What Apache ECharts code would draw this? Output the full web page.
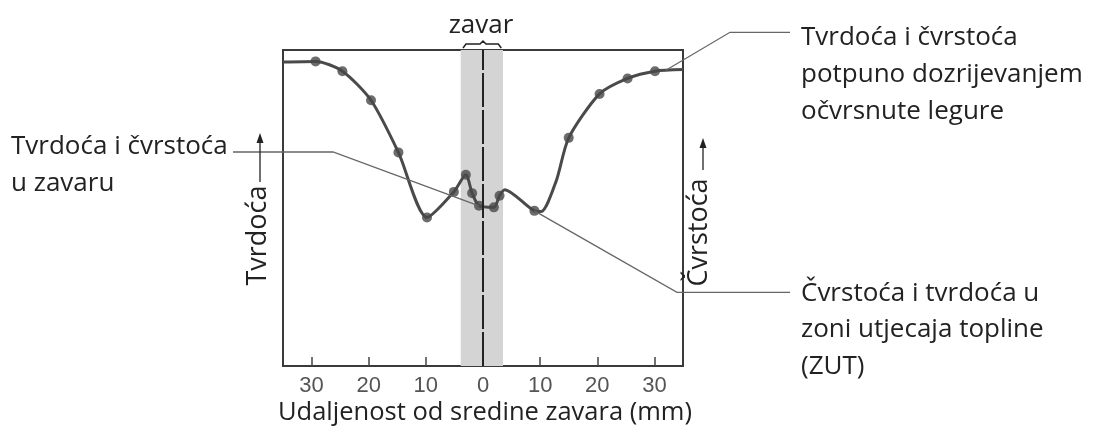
<!DOCTYPE html>
<html>
<head>
<meta charset="utf-8">
<script src="https://cdn.jsdelivr.net/npm/echarts@6/dist/echarts.min.js"></script>
<style>
  html, body { margin: 0; padding: 0; background: #fff; }
  #chart { width: 1094px; height: 435px; }
</style>
</head>
<body>
<div id="chart"></div>
<script>
// hardness / strength profile across the weld (distance in mm, relative units)
const curveX = [-35, -29.3, -24.6, -19.6, -14.8, -9.8, -5.1, -3.0, -1.9, -0.7, 1.9, 2.9, 3.8, 9.0, 10.2, 12.8, 15.0, 20.4, 25.3, 30.1, 35];
const curveY = [96.2, 96.4, 93.3, 84.1, 67.6, 47.0, 55.1, 60.5, 54.7, 50.7, 50.2, 53.9, 55.8, 49.1, 48.9, 58.5, 72.2, 86.1, 91.0, 93.3, 93.8];

// measured points (dots)
const dotX = [-29.3, -24.6, -19.6, -14.8, -9.8, -5.1, -3.0, -1.9, -0.7, 1.9, 2.9, 9.0, 15.0, 20.4, 25.3, 30.1];
const dotY = [96.4, 93.3, 84.1, 67.6, 47.0, 55.1, 60.5, 54.7, 50.7, 50.2, 53.9, 49.1, 72.2, 86.1, 91.0, 93.3];

const xTicks = [-30, -20, -10, 0, 10, 20, 30];
const weldZone = [-3.9, 3.5];

const labelWeld = ['Tvrdoća i čvrstoća', 'u zavaru'];
const labelAged = ['Tvrdoća i čvrstoća', 'potpuno dozrijevanjem', 'očvrsnute legure'];
const labelHaz = ['Čvrstoća i tvrdoća u', 'zoni utjecaja topline', '(ZUT)'];
const xName = 'Udaljenost od sredine zavara (mm)';

const FONT = '"Open Sans", "Noto Sans", sans-serif';
const TXT = '#222';
const LEAD = '#666';

let chart = echarts.init(document.getElementById('chart'));

let option = {
  backgroundColor: '#fff',
  animation: false,
  grid: {
    left: 283, right: 411, top: 50, bottom: 69,
    show: true, borderColor: '#3a3a3a', borderWidth: 2
  },
  xAxis: {
    type: 'value', min: -35, max: 35,
    axisLine: { show: false },
    splitLine: { show: false },
    axisTick: {
      show: true, inside: true, length: 9,
      customValues: xTicks,
      lineStyle: { color: '#444', width: 1.5 }
    },
    axisLabel: {
      customValues: xTicks,
      formatter: function (v) { return String(Math.abs(v)); },
      color: '#555', fontSize: 22, fontFamily: 'Liberation Sans', margin: 9
    }
  },
  yAxis: { type: 'value', min: 0, max: 100, show: false },
  series: [
    {
      // weld zone band + centre line
      type: 'line', data: [], z: 1, silent: true,
      markArea: {
        silent: true,
        itemStyle: { color: '#d4d4d4' },
        data: [[{ xAxis: weldZone[0] }, { xAxis: weldZone[1] }]]
      },
      markLine: {
        silent: true, symbol: 'none',
        label: { show: false },
        lineStyle: { color: '#222', width: 2, type: [34, 3] },
        data: [{ xAxis: 0 }]
      }
    },
    {
      type: 'line', z: 3,
      data: curveX.map((x, i) => [x, curveY[i]]),
      smooth: 0.25,
      symbol: 'none',
      lineStyle: { color: '#4a4a4a', width: 3 }
    },
    {
      type: 'scatter', z: 4,
      data: dotX.map((x, i) => [x, dotY[i]]),
      symbolSize: 10,
      itemStyle: { color: '#474747' }
    }
  ]
};

chart.setOption(option);

function px(x, y) {
  return chart.convertToPixel({ gridIndex: 0 }, [x, y]);
}

function textLines(lines, x, y0, step, size) {
  return lines.map((t, i) => ({
    type: 'text', z: 10,
    style: {
      text: t, x: x, y: y0 + i * step,
      font: size + 'px ' + FONT, fill: TXT,
      textAlign: 'left', textVerticalAlign: 'middle'
    }
  }));
}

function leader(points) {
  return {
    type: 'polyline', z: 9, silent: true,
    shape: { points: points },
    style: { stroke: LEAD, lineWidth: 1.3, fill: null }
  };
}

function arrowUp(x, yTop, yBottom) {
  return [
    { type: 'line', z: 9, shape: { x1: x, y1: yTop + 6, x2: x, y2: yBottom }, style: { stroke: '#222', lineWidth: 1.3 } },
    { type: 'polygon', z: 9, shape: { points: [[x, yTop], [x - 3.5, yTop + 10], [x + 3.5, yTop + 10]] }, style: { fill: '#222' } }
  ];
}

let weldIdx = dotX.indexOf(-0.7);
let hazIdx = dotX.indexOf(9.0);
let pWeld = px(dotX[weldIdx], dotY[weldIdx]);
let pHaz = px(dotX[hazIdx], dotY[hazIdx]);
let pAged = px(32, 93.6);
let b0 = px(weldZone[0] + 0.4, 100);
let b1 = px(weldZone[1] - 0.3, 100);
let bm = px(0, 100);

let graphic = [];
graphic = graphic.concat(textLines(labelWeld, 11, 147, 37, 26));
graphic = graphic.concat(textLines(labelAged, 801, 37.5, 37, 26));
graphic = graphic.concat(textLines(labelHaz, 801, 293.5, 36.5, 26));

graphic.push(leader([[233, 152], [333, 152], pWeld]));
graphic.push(leader([pAged, [730, 32.3], [790, 32.3]]));
graphic.push(leader([pHaz, [677, 292.3], [790, 292.3]]));

// brace and "zavar" above the weld zone
graphic.push({
  type: 'polyline', z: 9, silent: true,
  shape: { points: [[b0[0], b0[1] - 2], [b0[0] + 3, b0[1] - 6], [bm[0] - 3, b0[1] - 6], [bm[0], b0[1] - 9], [bm[0] + 3, b0[1] - 6], [b1[0] - 3, b1[1] - 6], [b1[0], b1[1] - 2]] },
  style: { stroke: '#222', lineWidth: 1.5, fill: null }
});
graphic.push({
  type: 'text', z: 10,
  style: { text: 'zavar', x: bm[0] - 2, y: 25.5, font: '26px ' + FONT, fill: TXT, textAlign: 'center', textVerticalAlign: 'middle' }
});

// axis titles
graphic.push({
  type: 'text', z: 10,
  style: { text: xName, x: 485, y: 413, font: '25.5px ' + FONT, fill: TXT, textAlign: 'center', textVerticalAlign: 'middle' }
});
graphic.push({
  type: 'text', z: 10, x: 258, y: 235.5, rotation: Math.PI / 2,
  style: { text: 'Tvrdoća', x: 0, y: 0, font: '27px ' + FONT, fill: TXT, textAlign: 'center', textVerticalAlign: 'middle' }
});
graphic.push({
  type: 'text', z: 10, x: 699, y: 232.5, rotation: Math.PI / 2,
  style: { text: 'Čvrstoća', x: 0, y: 0, font: '27px ' + FONT, fill: TXT, textAlign: 'center', textVerticalAlign: 'middle' }
});
graphic = graphic.concat(arrowUp(260, 133, 182));
graphic = graphic.concat(arrowUp(703, 138, 170));

chart.setOption({ graphic: graphic });
</script>
</body>
</html>
